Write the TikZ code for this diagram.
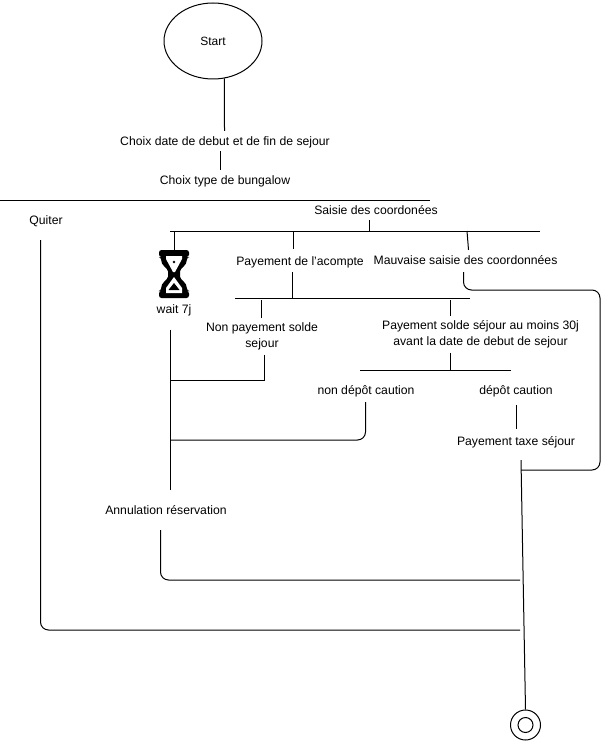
\documentclass[tikz,border=0pt]{standalone}
\usepackage{fontspec}
\setmainfont{Liberation Sans}
\usetikzlibrary{shapes.geometric, positioning}

\begin{document}
\begin{tikzpicture}[
  x=1pt, y=-1pt,
  lbl/.style={font=\fontsize{12.2}{16}\selectfont, align=center, inner xsep=2pt, inner ysep=4pt},
  lbline/.style={lbl, text height=10pt, text depth=2pt},
  bar/.style={inner sep=0pt, minimum height=0pt, outer sep=0pt},
  lien/.style={line width=1pt, black},
  coude/.style={lien, rounded corners=8pt}
]
\useasboundingbox (0,0) rectangle (602,741);
% start and first choices
\node[draw, line width=1pt, ellipse, minimum width=98pt, minimum height=76pt, inner sep=0pt,
      font=\fontsize{12}{14}\selectfont] (start) at (213,41) {Start};
\node[lbline] (dates) at (225,141) {Choix date de debut et de fin de sejour};
\node[lbline] (bungalow) at (225,180) {Choix type de bungalow};
\node[bar, minimum width=430pt] (barchoix) at (215,200) {};
\node[lbline] (quiter) at (46,220) {Quiter};
\node[lbline] (saisie) at (376,210) {Saisie des coordonées};
\node[bar, minimum width=370pt] (barsaisie) at (355,231) {};
% second row
\node[lbline] (acompte) at (300,261) {Payement de l'acompte};
\node[lbline] (mauvaise) at (465.5,260) {Mauvaise saisie des coordonnées};
\node[lbline] (wait) at (174,309) {wait 7j};
\node[bar, minimum width=235pt] (barpaye) at (352.5,298) {};
\node[lbl] (nonsolde) at (262,336) {Non payement solde\\sejour};
\node[lbl] (solde) at (480.5,334) {Payement solde séjour au moins 30j\\avant la date de debut de sejour};
\node[bar, minimum width=151pt] (barcaution) at (435.5,370) {};
\node[lbline] (noncaution) at (366,390) {non dépôt caution};
\node[lbline] (caution) at (516,390) {dépôt caution};
\node[lbline] (taxe) at (516,441) {Payement taxe séjour};
\node[lbline] (annulation) at (166,510) {Annulation réservation};
% final state
\node[draw, line width=1pt, circle, minimum size=30pt, inner sep=0pt] (fin) at (525.5,725) {};
\node[draw, line width=1pt, circle, minimum size=15pt, inner sep=0pt] (fininner) at (525.5,725) {};
% free ends
\coordinate (retour1) at (170.5,380);
\coordinate (retour2) at (170.5,440);
\coordinate (jonction1) at (520,580);
\coordinate (jonction2) at (520,630);
\coordinate (jonction3) at (521,470);
\coordinate (coin) at (600,290);
% hourglass
\node[bar, minimum width=30pt, minimum height=48pt] (sablier) at (174,274) {};
\fill[black, rounded corners=2.5pt] (159,250) -- (189,250) -- (189,257) -- (187,257)
  .. controls (187,266) and (180,268) .. (180,274) .. controls (180,280) and (187,282) .. (187,291)
  -- (189,291) -- (189,298) -- (159,298) -- (159,291) -- (161,291)
  .. controls (161,282) and (168,280) .. (168,274) .. controls (168,268) and (161,266) .. (161,257)
  -- (159,257) -- cycle;
\fill[white] (166,256) -- (182,256) -- (182,259) -- (175,272) -- (173,272) -- (166,259) -- cycle;
\fill[white] (174,277) -- (182,288) -- (182,293) -- (166,293) -- (166,288) -- cycle;
\fill[black] (174,262) circle (1.3pt);
\fill[black] (174,283) -- (179.5,290) -- (168.5,290) -- cycle;
% bars
\draw[lien] (barchoix.west) -- (barchoix.east);
\draw[lien] (barsaisie.west) -- (barsaisie.east);
\draw[lien] (barpaye.west) -- (barpaye.east);
\draw[lien] (barcaution.west) -- (barcaution.east);
% connectors
\draw[lien] (start.-73) -- ([xshift=-0.5pt]dates.north);
\draw[lien] ([xshift=-4.5pt]dates.south) -- ([xshift=-4.5pt]bungalow.north);
\draw[lien] ([xshift=-6.5pt]saisie.south) -- ([xshift=199.5pt]barsaisie.west);
\draw[lien] ([xshift=4.5pt]barsaisie.west) -- ([xshift=0.5pt]sablier.north);
\draw[lien] ([xshift=123pt]barsaisie.west) -- ([xshift=-7pt,yshift=2pt]acompte.north);
\draw[lien] ([xshift=297pt]barsaisie.west) -- ([xshift=3pt]mauvaise.north);
\draw[lien] ([xshift=-7.5pt,yshift=-1pt]acompte.south) -- ([xshift=57.5pt]barpaye.west);
\draw[lien] ([xshift=26pt,yshift=-2pt]barpaye.west) -- ([xshift=-1pt]nonsolde.north);
\draw[lien] ([xshift=215pt,yshift=-2pt]barpaye.west) -- ([xshift=-30.5pt]solde.north);
\draw[lien] ([xshift=-30.5pt,yshift=-1pt]solde.south) -- ([xshift=90pt]barcaution.west);
\draw[lien] ([xshift=2pt,yshift=-1pt]nonsolde.south) |- (retour1);
\draw[lien] ([xshift=-3.5pt,yshift=-11pt]wait.south) -- ([xshift=4.5pt,yshift=10pt]annulation.north);
\draw[coude] ([xshift=-0.5pt,yshift=-2pt]noncaution.south) |- (retour2);
\draw[lien] ([xshift=0.5pt,yshift=-5pt]caution.south) -- ([xshift=0.5pt,yshift=2pt]taxe.north);
\draw[coude] ([xshift=-5.5pt,yshift=-10pt]annulation.south) |- (jonction1);
\draw[coude] ([xshift=-5.5pt,yshift=-10pt]quiter.south) |- (jonction2);
\draw[coude] ([xshift=-2pt,yshift=-2pt]mauvaise.south) |- (coin) |- (jonction3);
\draw[lien] ([xshift=5pt,yshift=-9pt]taxe.south) -- (fin.north);
\end{tikzpicture}
\end{document}
